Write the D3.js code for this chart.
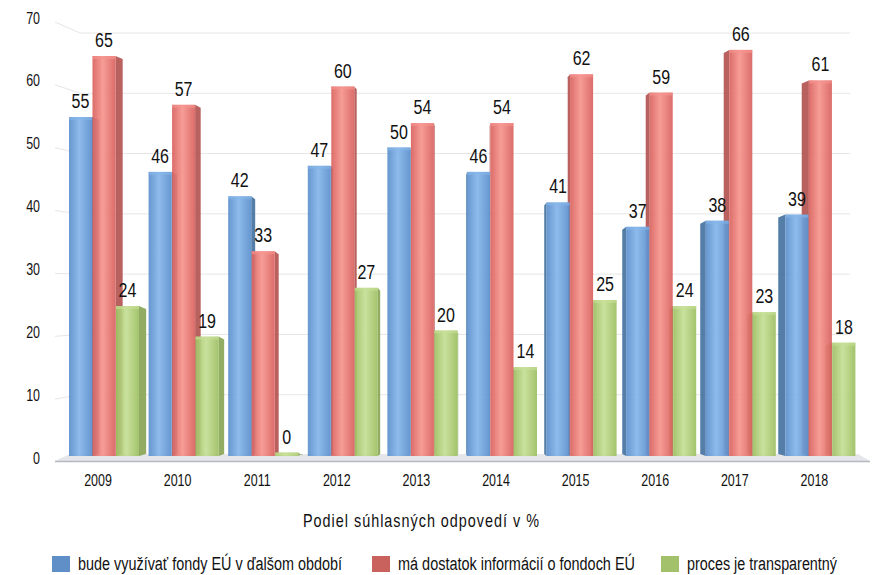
<!DOCTYPE html>
<html>
<head>
<meta charset="utf-8">
<script src="https://cdn.jsdelivr.net/npm/d3@7"></script>
<style>
  body { margin: 0; background: #fff; }
  text { font-family: 'Liberation Sans', Arial, sans-serif; fill: #111; }
</style>
</head>
<body>
<svg id="chart"></svg>
<script>
const years = ['2009', '2010', '2011', '2012', '2013', '2014', '2015', '2016', '2017', '2018'];
const seriesNames = ['bude využívať fondy EÚ v ďalšom období', 'má dostatok informácií o fondoch EÚ', 'proces je transparentný'];
const useFunds = [55, 46, 42, 47, 50, 46, 41, 37, 38, 39];
const enoughInfo = [65, 57, 33, 60, 54, 54, 62, 59, 66, 61];
const transparent = [24, 19, 0, 27, 20, 14, 25, 24, 23, 18];
const yTicks = [0, 10, 20, 30, 40, 50, 60, 70];
const axisTitle = 'Podiel súhlasných odpovedí v %';

const width = 877,
  height = 575,
  centerX = 462,
  depth = 0.02;

// front edge, light middle, side, legend swatch
const palette = [
  {edge: '#5b8fcc', mid: '#86b6ea', side: '#41709f', legend: '#5f8fc6'},
  {edge: '#d9625e', mid: '#f6958f', side: '#b0504d', legend: '#c9625d'},
  {edge: '#9dbf62', mid: '#c6df96', side: '#86a452', legend: '#a3c16b'}
];

const values = [useFunds, enoughInfo, transparent];

// no condensed font installed, so squeeze horizontally
function narrow(sel, x, y, k) {
  sel.attr('transform', `translate(${x},${y}) scale(${k},1)`);
}

const svg = d3.select('#chart')
  .attr('width', width)
  .attr('height', height);

const defs = svg.append('defs');
palette.forEach((c, i) => {
  const g = defs.append('linearGradient')
    .attr('id', 'grad' + i)
    .attr('x1', '0%').attr('x2', '100%').attr('y1', '0%').attr('y2', '0%');
  g.append('stop').attr('offset', '0%').attr('stop-color', c.edge);
  g.append('stop').attr('offset', '45%').attr('stop-color', c.mid);
  g.append('stop').attr('offset', '100%').attr('stop-color', c.edge);
});

const x0 = d3.scalePoint().domain(years).range([104, 820.4]);
const x1 = d3.scaleBand().domain(d3.range(3)).range([-35, 35]).paddingInner(0.02);
const y = d3.scaleLinear().domain([0, 70]).range([452.5, 25.5]);
const yBack = d3.scaleLinear().domain([0, 70]).range([455, 33]);
const yLabel = d3.scaleLinear().domain([0, 70]).range([458, 18]);

// back wall grid
const grid = svg.append('g');
grid.selectAll('line.grid')
  .data(yTicks.filter(d => d > 0))
  .enter()
  .append('line')
    .attr('x1', 80).attr('x2', 850)
    .attr('y1', d => yBack(d)).attr('y2', d => yBack(d))
    .attr('stroke', '#e6e6e6');
grid.selectAll('line.conn')
  .data(yTicks.filter(d => d > 0))
  .enter()
  .append('line')
    .attr('x1', 55).attr('x2', 80)
    .attr('y1', d => yLabel(d) + 4).attr('y2', d => yBack(d))
    .attr('stroke', '#e6e6e6');

// floor
svg.append('polygon')
  .attr('points', '70,454 858,454 870,461 55,461')
  .attr('fill', '#e4e6ea');
svg.append('line')
  .attr('x1', 55).attr('x2', 870).attr('y1', 461.5).attr('y2', 461.5)
  .attr('stroke', '#b4b8bf').attr('stroke-width', 1.5);

// y labels
svg.append('g').selectAll('text')
  .data(yTicks)
  .enter()
  .append('text')
    .attr('dy', '0.35em')
    .attr('text-anchor', 'end')
    .style('font-size', '16px')
    .text(d => d)
    .each(function(d) { narrow(d3.select(this), 40, yLabel(d), 0.78); });

// bars
const bottom = 456;
years.forEach((yr, gi) => {
  const cx = x0(yr);
  const dir = cx < centerX ? 1 : -1;
  const s = Math.abs(cx - centerX) * depth;
  const order = dir === 1 ? [0, 1, 2] : [2, 1, 0];
  const g = svg.append('g');

  order.forEach(si => {
    const v = values[si][gi];
    const xl = cx + x1(si);
    const w = x1.bandwidth();
    const top = Math.min(y(v), bottom - 2);
    const c = palette[si];
    const xf = dir === 1 ? xl + w : xl;

    g.append('polygon')
      .attr('points', [[xf, top], [xf + dir * s, top + 3], [xf + dir * s, bottom - 2], [xf, bottom]].map(p => p.join(',')).join(' '))
      .attr('fill', c.side)
      .attr('opacity', 0.9);
    g.append('rect')
      .attr('x', xl)
      .attr('y', top)
      .attr('width', w)
      .attr('height', bottom - top)
      .attr('fill', `url(#grad${si})`)
      .attr('opacity', 0.93);
    g.append('rect')
      .attr('x', xl)
      .attr('y', top)
      .attr('width', w)
      .attr('height', 3)
      .attr('fill', c.mid)
      .attr('opacity', 0.6);
  });

  d3.range(3).forEach(si => {
    const v = values[si][gi];
    svg.append('text')
      .attr('text-anchor', 'middle')
      .style('font-size', '20px')
      .text(v)
      .call(narrow, cx + x1(si) + x1.bandwidth() / 2, y(v) - 9, 0.8);
  });
});

// x labels
svg.append('g').selectAll('text')
  .data(years)
  .enter()
  .append('text')
    .attr('text-anchor', 'middle')
    .style('font-size', '16px')
    .text(d => d)
    .each(function(d) { narrow(d3.select(this), x0(d) - 6, 486, 0.78); });

// axis title: narrow glyphs, spaced out
svg.append('text')
  .attr('textLength', 236 / 0.8)
  .attr('lengthAdjust', 'spacing')
  .style('font-size', '18px')
  .text(axisTitle)
  .call(narrow, 303, 527, 0.8);

// legend
const legendX = [52, 372, 661];
const legendW = [264, 237, 150];
const legend = svg.append('g').selectAll('g')
  .data(seriesNames)
  .enter()
  .append('g')
    .attr('transform', (d, i) => `translate(${legendX[i]}, 556)`);
legend.append('rect')
  .attr('width', 18)
  .attr('height', 16)
  .attr('fill', (d, i) => palette[i].legend);
legend.append('text')
  .attr('x', 26)
  .attr('y', 14)
  .attr('textLength', (d, i) => legendW[i])
  .attr('lengthAdjust', 'spacingAndGlyphs')
  .style('font-size', '18px')
  .text(d => d);
</script>
</body>
</html>
